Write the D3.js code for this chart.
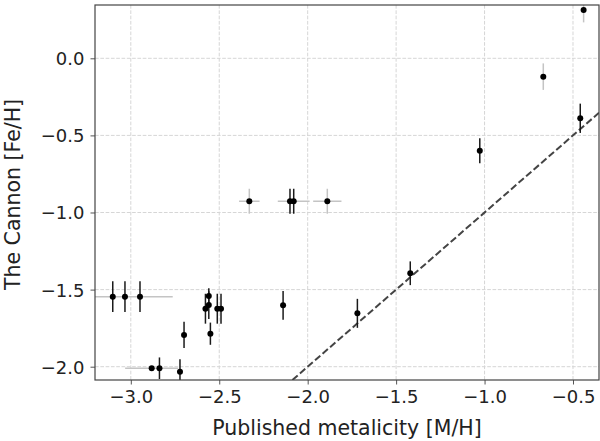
<!DOCTYPE html>
<html>
<head>
<meta charset="utf-8">
<script src="https://cdn.jsdelivr.net/npm/d3@7"></script>
<style>
  html, body { margin: 0; padding: 0; background: #fff; }
  svg { display: block; }
  text { font-family: "DejaVu Sans", sans-serif; fill: #222; }
</style>
</head>
<body>
<svg id="chart" width="600" height="441"></svg>
<script>
// ---- data ----
// Sample with dark (fully opaque) error bars
const darkX    = [-3.102, -3.033, -2.948, -2.838, -2.722, -2.699, -2.578, -2.559, -2.559, -2.550, -2.511, -2.490, -2.139, -1.719, -2.100, -2.079, -1.420, -1.027, -0.459];
const darkY    = [-1.546, -1.546, -1.546, -2.010, -2.032, -1.794, -1.624, -1.541, -1.600, -1.786, -1.624, -1.624, -1.602, -1.654, -0.927, -0.927, -1.394, -0.599, -0.389];
const darkYErr = [0.10, 0.10, 0.10, 0.07, 0.08, 0.085, 0.097, 0.05, 0.09, 0.072, 0.097, 0.097, 0.093, 0.094, 0.081, 0.081, 0.077, 0.081, 0.095];
const darkXErr = [0, 0.27, 0, 0, 0, 0, 0, 0, 0, 0, 0, 0, 0, 0, 0, 0.09, 0, 0, 0];
// Sample with light (faint) error bars
const lightX    = [-2.882, -2.330, -1.889, -0.668, -0.440];
const lightY    = [-2.010, -0.927, -0.927, -0.119, 0.313];
const lightYErr = [0, 0.081, 0.081, 0.086, 0.08];
const lightXErr = [0.15, 0.058, 0.08, 0, 0];
// axes
const xTicks = [-3.0, -2.5, -2.0, -1.5, -1.0, -0.5];
const yTicks = [0.0, -0.5, -1.0, -1.5, -2.0];
const xDomain = [-3.2024, -0.353];
const yDomain = [-2.0863, 0.3457];
const xLabel = "Published metalicity [M/H]";
const yLabel = "The Cannon [Fe/H]";

// ---- layout ----
const svg = d3.select("#chart");
const L = 95, R = 599, T = 5, B = 380;
const x = d3.scaleLinear().domain(xDomain).range([L, R]);
const y = d3.scaleLinear().domain(yDomain).range([B, T]);
const fmt = d => d3.format(".1f")(d).replace("-", "\u2212");

svg.append("defs").append("clipPath").attr("id", "clip")
  .append("rect").attr("x", L).attr("y", T).attr("width", R - L).attr("height", B - T);

// grid
const grid = svg.append("g");
grid.selectAll("line.gx").data(xTicks).join("line")
  .attr("x1", d => x(d)).attr("x2", d => x(d)).attr("y1", T).attr("y2", B)
  .attr("stroke", "#d6d6d6").attr("stroke-width", 1).attr("stroke-dasharray", "3.7,1.6");
grid.selectAll("line.gy").data(yTicks).join("line")
  .attr("y1", d => y(d)).attr("y2", d => y(d)).attr("x1", L).attr("x2", R)
  .attr("stroke", "#d6d6d6").attr("stroke-width", 1).attr("stroke-dasharray", "3.7,1.6");

const plot = svg.append("g").attr("clip-path", "url(#clip)");

// 1:1 dashed line
const lo = Math.max(xDomain[0], yDomain[0]), hi = Math.min(xDomain[1], yDomain[1]);
plot.append("line")
  .attr("x1", x(yDomain[0])).attr("y1", y(yDomain[0]))
  .attr("x2", x(xDomain[1])).attr("y2", y(xDomain[1]))
  .attr("stroke", "#444").attr("stroke-width", 2).attr("stroke-dasharray", "7,3");

function drawSample(xs, ys, yerr, xerr, yColor, xColor) {
  const pts = xs.map((v, i) => ({x: v, y: ys[i], ye: yerr[i], xe: xerr[i]}));
  plot.selectAll(null).data(pts.filter(p => p.xe > 0)).join("line")
    .attr("x1", p => x(p.x - p.xe)).attr("x2", p => x(p.x + p.xe))
    .attr("y1", p => y(p.y)).attr("y2", p => y(p.y))
    .attr("stroke", xColor).attr("stroke-width", 1.5);
  plot.selectAll(null).data(pts.filter(p => p.ye > 0)).join("line")
    .attr("x1", p => x(p.x)).attr("x2", p => x(p.x))
    .attr("y1", p => y(p.y - p.ye)).attr("y2", p => y(p.y + p.ye))
    .attr("stroke", yColor).attr("stroke-width", 1.5);
  return pts;
}
const p1 = drawSample(darkX, darkY, darkYErr, darkXErr, "#1a1a1a", "#c4c4c4");
const p2 = drawSample(lightX, lightY, lightYErr, lightXErr, "#c4c4c4", "#c4c4c4");
plot.selectAll("circle").data(p1.concat(p2)).join("circle")
  .attr("cx", p => x(p.x)).attr("cy", p => y(p.y)).attr("r", 3)
  .attr("fill", "#000");

// axes
const xAxis = d3.axisBottom(x).tickValues(xTicks).tickFormat(fmt).tickSize(4.5).tickPadding(6);
const yAxis = d3.axisLeft(y).tickValues(yTicks).tickFormat(fmt).tickSize(4.5).tickPadding(6);
const gx = svg.append("g").attr("transform", `translate(0,${B})`).call(xAxis);
const gy = svg.append("g").attr("transform", `translate(${L},0)`).call(yAxis);
[gx, gy].forEach(g => {
  g.select(".domain").remove();
  g.selectAll(".tick line").attr("stroke", "#555").attr("stroke-width", 1);
  g.selectAll(".tick text").style("font-size", "18px").attr("fill", "#222");
});
gy.selectAll(".tick text").attr("dy", "0.36em");

// spines
svg.append("rect").attr("x", L).attr("y", T).attr("width", R - L).attr("height", B - T)
  .attr("fill", "none").attr("stroke", "#444").attr("stroke-width", 1.2);

// labels
svg.append("text").attr("x", (L + R) / 2).attr("y", 435)
  .attr("text-anchor", "middle").style("font-size", "20.5px").text(xLabel);
svg.append("text").attr("transform", `translate(20,${(T + B) / 2 + 2}) rotate(-90)`)
  .attr("text-anchor", "middle").style("font-size", "20.5px").text(yLabel);
</script>
</body>
</html>
